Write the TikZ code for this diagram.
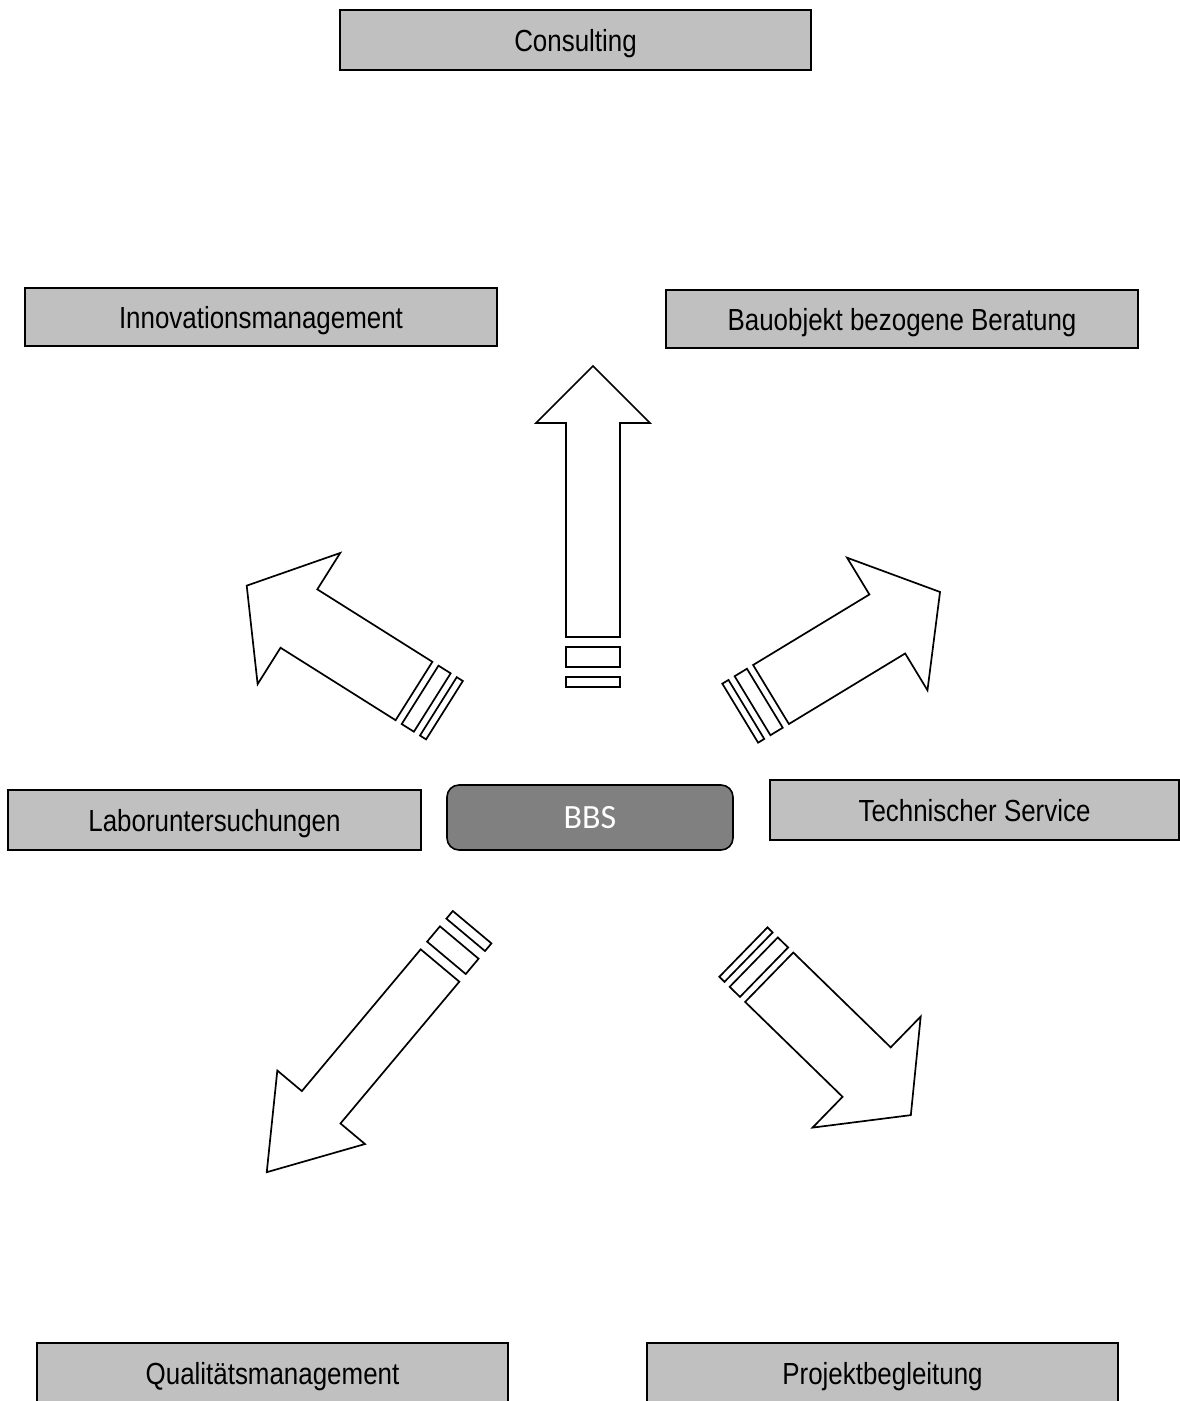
\documentclass[tikz,border=0pt]{standalone}
\usepackage{fontspec}
\usetikzlibrary{shadows}
\newfontfamily\labfont[FakeStretch=0.85]{Liberation Sans}
\newfontfamily\bbsfont{Carlito}
\definecolor{boxgray}{RGB}{192,192,192}
\definecolor{bbsgray}{RGB}{128,128,128}
% #1 x, #2 y (centre of shaft end), #3 angle, #4 shaft length, #5 shaft half width,
% #6 head half width, #7 head length, #8 stripe scale
\newcommand\striparrow[8]{%
  \begin{scope}[shift={(#1,#2)}, rotate=#3]
    \draw[arrowline] (0,#5) -- (#4,#5) -- (#4,#6) -- ({#4+#7},0) -- (#4,-#6) -- (#4,-#5) -- (0,-#5) -- cycle;
    \draw[arrowline] ({-10*#8},#5) -- ({-30*#8},#5) -- ({-30*#8},-#5) -- ({-10*#8},-#5) -- cycle;
    \draw[arrowline] ({-40*#8},#5) -- ({-50*#8},#5) -- ({-50*#8},-#5) -- ({-40*#8},-#5) -- cycle;
  \end{scope}}
\begin{document}
\begin{tikzpicture}[x=1pt,y=-1pt,
  box/.style={draw=black, line width=1.3pt, fill=boxgray, inner sep=0pt,
    font=\labfont\fontsize{30.5pt}{36pt}\selectfont, text height=23.5pt, text depth=0pt,
    drop shadow={shadow xshift=1.3pt, shadow yshift=-1.3pt, fill=black, opacity=1}},
  bbsbox/.style={draw=black, line width=1.6pt, fill=bbsgray, rounded corners=12pt, inner sep=0pt,
    text=white, font=\bbsfont\fontsize{34pt}{40pt}\selectfont},
  arrowline/.style={draw=black, line width=1.7pt, fill=white, line join=miter}]
  \useasboundingbox (0,0) rectangle (1180,1401);
  \clip (0,0) rectangle (1180,1401);
  \fill[white] (0,0) rectangle (1180,1401);

  % boxes
  \node[box, minimum width=471pt, minimum height=60pt] (consulting) at (575.5,40) {Consulting};
  \node[box, minimum width=472pt, minimum height=58pt] (innov) at (261,317) {Innovationsmanagement};
  \node[box, minimum width=472pt, minimum height=58pt] (bauobj) at (902,319) {Bauobjekt bezogene Beratung};
  \node[box, minimum width=413pt, minimum height=60pt] (labor) at (214.5,820) {Laboruntersuchungen};
  \node[bbsbox, minimum width=286pt, minimum height=65pt] (bbs) at (590,817.5) {BBS};
  \node[box, minimum width=409pt, minimum height=60pt] (tech) at (974.5,810) {Technischer Service};
  \node[box, minimum width=471pt, minimum height=60pt] (qual) at (272.5,1373) {Qualitätsmanagement};
  \node[box, minimum width=471pt, minimum height=60pt] (projekt) at (882.5,1373) {Projektbegleitung};

  % striped arrows
  \striparrow{593}{637}{90}{214}{27}{57}{57}{1}
  \striparrow{414}{691}{147.8}{136}{34.5}{77.5}{61.7}{0.72}
  \striparrow{771}{694.5}{31.24}{136}{34.5}{77.5}{61.7}{0.72}
  \striparrow{769.2}{977.2}{-44.24}{136}{34.5}{77.5}{61.7}{0.72}
  \striparrow{440}{965.5}{230.03}{185}{25.2}{57.2}{84.7}{1}
\end{tikzpicture}
\end{document}
